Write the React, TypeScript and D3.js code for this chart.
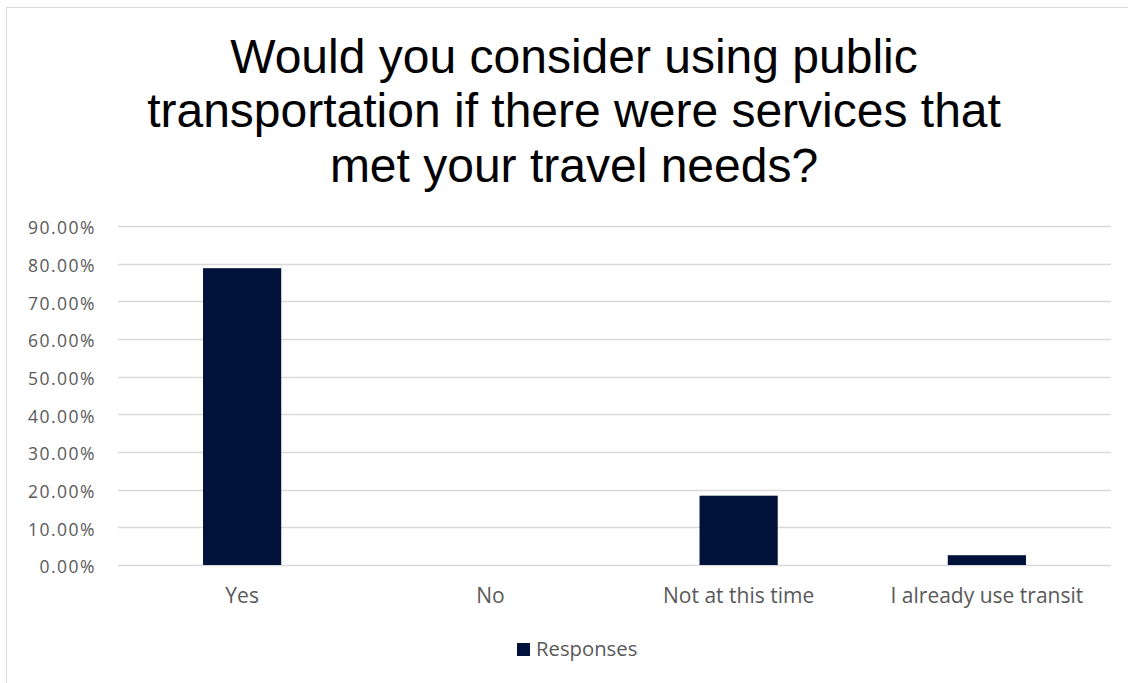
import React from "react";
import * as d3 from "d3";

const categories = ["Yes", "No", "Not at this time", "I already use transit"];
const responses = [0.788, 0, 0.184, 0.026];
const yTicks = [0, 0.1, 0.2, 0.3, 0.4, 0.5, 0.6, 0.7, 0.8, 0.9];
const titleLines = [
  "Would you consider using public",
  "transportation if there were services that",
  "met your travel needs?",
];
const seriesName = "Responses";

const W = 1128;
const H = 683;
const plot = { left: 118, right: 1111, top: 226, bottom: 565 };
const barColor = "#00123A";
const labelFont = "'Open Sans', sans-serif";

export default function App() {
  const x = d3
    .scaleBand<string>()
    .domain(categories)
    .range([plot.left, plot.right])
    .paddingInner(0.685)
    .paddingOuter(0.3425);
  const y = d3.scaleLinear().domain([0, 0.9]).range([plot.bottom, plot.top]);
  const fmt = (v: number) => (v * 100).toFixed(2) + "%";

  return (
    <svg
      width={W}
      height={H}
      style={{ position: "absolute", left: 0, top: 0, background: "#fff" }}
    >
      <rect x={6.5} y={7.5} width={W + 10} height={H + 10} fill="#fff" stroke="#d9d9d9" strokeWidth={1} />
      {titleLines.map((t, i) => (
        <text
          key={i}
          x={574}
          y={73 + i * 54.3}
          textAnchor="middle"
          fontFamily="'Liberation Sans', Arial, sans-serif"
          fontSize={48}
          fill="#000"
        >
          {t}
        </text>
      ))}
      {yTicks.map((t) => (
        <g key={t}>
          <line
            x1={plot.left}
            x2={plot.right}
            y1={Math.round(y(t)) + 0.5}
            y2={Math.round(y(t)) + 0.5}
            stroke="#d9d9d9"
            strokeWidth={1.5}
          />
          <text
            x={96}
            y={y(t) + 8.3}
            textAnchor="end"
            fontFamily={labelFont}
            fontSize={17.5}
            letterSpacing={1.5}
            fill="#595959"
          >
            {fmt(t)}
          </text>
        </g>
      ))}
      {categories.map((c, i) => (
        <rect
          key={c}
          x={x(c)!}
          y={y(responses[i])}
          width={x.bandwidth()}
          height={plot.bottom - y(responses[i])}
          fill={barColor}
        />
      ))}
      {categories.map((c) => (
        <text
          key={c}
          x={x(c)! + x.bandwidth() / 2}
          y={603}
          textAnchor="middle"
          fontFamily={labelFont}
          fontSize={21}
          fill="#595959"
        >
          {c}
        </text>
      ))}
      <rect x={517} y={643} width={13} height={13} fill={barColor} />
      <text
        x={536}
        y={656}
        fontFamily={labelFont}
        fontSize={20.3}
        fill="#595959"
      >
        {seriesName}
      </text>
    </svg>
  );
}
